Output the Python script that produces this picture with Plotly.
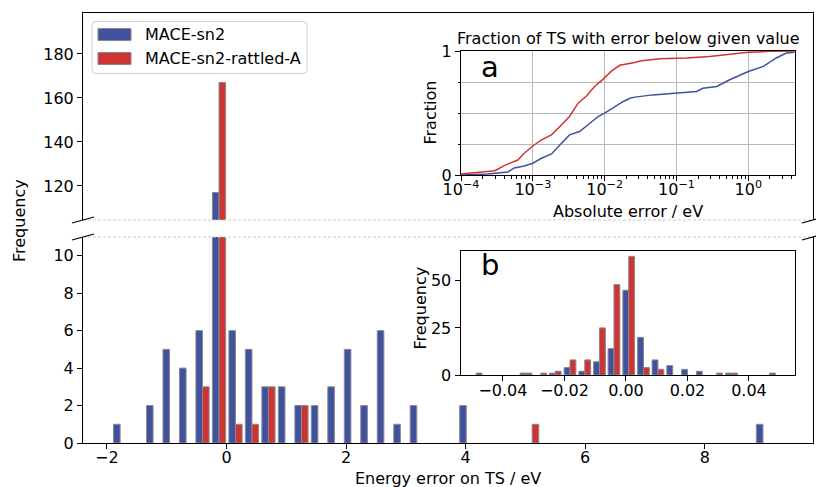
import plotly.graph_objects as go

W, H = 816, 487

# ---------------- data ----------------
# main histogram (energy error on TS / eV), bin centres and counts
bin_centers = [-1.779, -1.228, -0.952, -0.676, -0.401, -0.125, 0.151, 0.426, 0.702, 0.978,
               1.254, 1.529, 1.805, 2.081, 2.356, 2.632, 2.908, 3.183, 4.011, 5.113, 8.973]
counts_sn2 = [1, 2, 5, 4, 6, 117, 6, 5, 3, 3, 2, 2, 3, 5, 2, 6, 1, 2, 2, 0, 1]
counts_rattled = [0, 0, 0, 0, 3, 167, 1, 1, 3, 0, 2, 0, 0, 0, 0, 0, 0, 0, 0, 1, 0]
bin_width = 0.2757

# inset b: zoomed histogram
zoom_centers = [-0.0468, -0.0325, -0.0277, -0.0230, -0.0182, -0.0134, -0.0086, -0.0039, 0.0009,
                0.0057, 0.0104, 0.0152, 0.0200, 0.0248, 0.0295, 0.0343, 0.0486]
zoom_sn2 = [1, 1, 0, 1, 4, 2, 7, 14, 45, 20, 8, 5, 3, 2, 0, 1, 1]
zoom_rattled = [0, 1, 1, 2, 8, 8, 25, 48, 63, 4, 3, 0, 0, 0, 1, 1, 0]
zoom_bin_width = 0.00477

# inset a: cumulative fraction of TS with |error| below value
cdf_err_sn2 = [1.0e-4, 2.34e-4, 4.47e-4, 5.5e-4, 7.59e-4, 1.0e-3, 1.32e-3, 1.82e-3, 2.51e-3,
               3.24e-3, 4.47e-3, 5.89e-3, 8.13e-3, 1.0e-2, 1.38e-2, 1.82e-2, 2.24e-2, 2.63e-2,
               4.68e-2, 0.1, 0.19, 0.234, 0.363, 0.55, 1.0, 1.62, 2.45, 3.39, 4.4]
cdf_frac_sn2 = [0.002, 0.01, 0.027, 0.059, 0.075, 0.097, 0.137, 0.172, 0.258,
                0.325, 0.352, 0.406, 0.473, 0.5, 0.553, 0.594, 0.62, 0.629,
                0.647, 0.661, 0.674, 0.70, 0.715, 0.769, 0.835, 0.876, 0.944, 0.984, 0.99]
cdf_err_rattled = [1.0e-4, 1.55e-4, 2.95e-4, 4.07e-4, 6.17e-4, 7.59e-4, 1.0e-3, 1.32e-3, 1.82e-3,
                   2.51e-3, 3.24e-3, 4.27e-3, 5.62e-3, 7.24e-3, 9.55e-3, 1.23e-2, 1.62e-2, 2.63e-2,
                   3.09e-2, 5.89e-2, 0.138, 0.288, 0.55, 1.0, 2.0, 4.4]
cdf_frac_rattled = [0.01, 0.021, 0.037, 0.08, 0.123, 0.177, 0.236, 0.285, 0.325,
                    0.406, 0.473, 0.58, 0.64, 0.715, 0.774, 0.836, 0.885, 0.908,
                    0.92, 0.938, 0.943, 0.956, 0.973, 0.989, 0.997, 1.0]

series_names = ["MACE-sn2", "MACE-sn2-rattled-A"]

main_xticks = [-2, 0, 2, 4, 6, 8]
main_xticktext = ["\u22122", "0", "2", "4", "6", "8"]
low_yticks = [0, 2, 4, 6, 8, 10]
high_yticks = [120, 140, 160, 180]
a_xticks = [1e-4, 1e-3, 1e-2, 1e-1, 1]
a_xticktext = ["10<sup>\u22124</sup>", "10<sup>\u22123</sup>", "10<sup>\u22122</sup>",
               "10<sup>\u22121</sup>", "10<sup>0</sup>"]
b_xticks = [-0.04, -0.02, 0.0, 0.02, 0.04]
b_xticktext = ["\u22120.04", "\u22120.02", "0.00", "0.02", "0.04"]
b_yticks = [0, 25, 50]

# ---------------- style ----------------
BLUE = "#4051a0"
RED = "#cf3434"
EDGE = "#8a8a8a"
FONT = "DejaVu Sans"
FS = 16


def px(x):
    return x / W


def py(y):
    return 1 - y / H


fig = go.Figure()


def add_bars(xs, a, b, bw, xa, ya):
    w = 0.4 * bw
    for vals, col, off in ((a, BLUE, -w), (b, RED, 0.0)):
        xx = [x for x, v in zip(xs, vals) if v > 0]
        yy = [v for v in vals if v > 0]
        fig.add_trace(go.Bar(x=xx, y=yy, width=[w] * len(xx), offset=off,
                             marker=dict(color=col, line=dict(color=EDGE, width=1)),
                             xaxis=xa, yaxis=ya, showlegend=False, hoverinfo="skip"))


add_bars(bin_centers, counts_sn2, counts_rattled, bin_width, "x", "y")
add_bars(bin_centers, counts_sn2, counts_rattled, bin_width, "x2", "y2")
add_bars(zoom_centers, zoom_sn2, zoom_rattled, zoom_bin_width, "x4", "y4")

fig.add_trace(go.Scatter(x=cdf_err_sn2, y=cdf_frac_sn2, mode="lines",
                         line=dict(color=BLUE, width=1.5), xaxis="x3", yaxis="y3",
                         showlegend=False, hoverinfo="skip"))
fig.add_trace(go.Scatter(x=cdf_err_rattled, y=cdf_frac_rattled, mode="lines",
                         line=dict(color=RED, width=1.5), xaxis="x3", yaxis="y3",
                         showlegend=False, hoverinfo="skip"))

tickfont = dict(family=FONT, size=FS, color="black")
common = dict(showline=True, linecolor="black", linewidth=1, ticks="outside", ticklen=5,
              tickwidth=1, tickcolor="black", tickfont=tickfont, zeroline=False,
              showgrid=False, automargin=False)

main_dom = [px(83), px(813)]
a_dom_x = [px(461), px(795)]
b_dom_x = [px(460.5), px(794.5)]

fig.update_layout(
    width=W, height=H, margin=dict(l=0, r=0, t=0, b=0, autoexpand=False),
    paper_bgcolor="white", plot_bgcolor="rgba(0,0,0,0)",
    barmode="overlay", showlegend=False,
    font=dict(family=FONT, size=FS, color="black"),
    xaxis=dict(domain=main_dom, anchor="y", range=[-2.4, 9.81], tickmode="array",
               tickvals=main_xticks, ticktext=main_xticktext, ticklabelstandoff=-5, **common),
    yaxis=dict(domain=[py(443), py(237)], anchor="x", range=[0, 11], tickmode="array",
               tickvals=low_yticks, mirror=True, **common),
    xaxis2=dict(domain=main_dom, anchor="y2", range=[-2.4, 9.81], side="top",
                showline=True, linecolor="black", linewidth=1, ticks="",
                showticklabels=False, zeroline=False, showgrid=False, automargin=False),
    yaxis2=dict(domain=[py(220), py(13)], anchor="x2", range=[104.5, 198.6], tickmode="array",
                tickvals=high_yticks, mirror=True, **common),
    xaxis3=dict(domain=a_dom_x, anchor="y3", type="log", range=[-4, 0.65],
                tickmode="array", tickvals=a_xticks, ticktext=a_xticktext,
                mirror=True, showline=True, linecolor="black", linewidth=1,
                ticks="outside", ticklen=5, tickcolor="black", tickfont=tickfont,
                ticklabelstandoff=-6,
                zeroline=False, showgrid=True, gridcolor="#b8b8b8", gridwidth=1,
                automargin=False,
                minor=dict(ticks="outside", ticklen=2.5, tickcolor="black", dtick="D1",
                           showgrid=False)),
    yaxis3=dict(domain=[py(175.3), py(51)], anchor="x3", range=[0, 1], tickmode="array",
                tickvals=[0, 1], mirror=True, showline=True, linecolor="black", linewidth=1,
                ticks="outside", ticklen=5, tickcolor="black", tickfont=tickfont,
                zeroline=False, showgrid=False, automargin=False,
                minor=dict(tickmode="linear", tick0=0, dtick=0.25, ticks="outside",
                           ticklen=2.5, tickcolor="black", showgrid=True,
                           gridcolor="#b8b8b8", gridwidth=1)),
    xaxis4=dict(domain=b_dom_x, anchor="y4", range=[-0.0538, 0.0548], tickmode="array",
                tickvals=b_xticks, ticktext=b_xticktext, mirror=True, ticklabelstandoff=-4,
                **common),
    yaxis4=dict(domain=[py(375), py(250.7)], anchor="x4", range=[0, 66], tickmode="array",
                tickvals=b_yticks, mirror=True, **common),
)

shapes = []
# broken-axis dashed edges
for yy in (220, 237):
    shapes.append(dict(type="line", xref="paper", yref="paper", x0=px(83), x1=px(813),
                       y0=py(yy), y1=py(yy), line=dict(color="#cccccc", width=1, dash="3px,2px")))
# diagonal break marks
for xc in (83, 813):
    for yc in (220, 237):
        shapes.append(dict(type="line", xref="paper", yref="paper",
                           x0=px(xc - 11), y0=py(yc + 3), x1=px(xc + 11), y1=py(yc - 3),
                           line=dict(color="black", width=1.2)))

# legend box (rounded)
lx0, lx1, ly0, ly1, r = 92, 307, 21.5, 73.5, 4
path = (f"M {px(lx0 + r)},{py(ly0)} L {px(lx1 - r)},{py(ly0)} "
        f"Q {px(lx1)},{py(ly0)} {px(lx1)},{py(ly0 + r)} L {px(lx1)},{py(ly1 - r)} "
        f"Q {px(lx1)},{py(ly1)} {px(lx1 - r)},{py(ly1)} L {px(lx0 + r)},{py(ly1)} "
        f"Q {px(lx0)},{py(ly1)} {px(lx0)},{py(ly1 - r)} L {px(lx0)},{py(ly0 + r)} "
        f"Q {px(lx0)},{py(ly0)} {px(lx0 + r)},{py(ly0)} Z")
shapes.append(dict(type="path", xref="paper", yref="paper", path=path,
                   fillcolor="rgba(255,255,255,0.8)", line=dict(color="#d0d0d0", width=1)))
legend_rows = [(34.5, BLUE), (58.5, RED)]
for (yc, col) in legend_rows:
    shapes.append(dict(type="rect", xref="paper", yref="paper",
                       x0=px(98), x1=px(131), y0=py(yc - 6), y1=py(yc + 6),
                       fillcolor=col, line=dict(color=EDGE, width=1)))
fig.update_layout(shapes=shapes)

annotations = []


def ann(text, x, y, size=FS, angle=0, xanchor="center", yanchor="middle"):
    annotations.append(dict(text=text, x=px(x), y=py(y), xref="paper", yref="paper",
                            showarrow=False, textangle=angle, xanchor=xanchor,
                            yanchor=yanchor, font=dict(family=FONT, size=size, color="black")))


for (yc, _), name in zip(legend_rows, series_names):
    ann(name, 143, yc, xanchor="left")

ann("Frequency", 19, 221, angle=-90)
ann("Energy error on TS / eV", 448, 478)
ann("Fraction of TS with error below given value", 628, 38.5)
ann("Absolute error / eV", 628, 211)
ann("Fraction", 430, 112.5, angle=-90)
ann("Frequency", 419.5, 308, angle=-90)
ann("a", 479, 67, size=29, xanchor="left")
ann("b", 479, 265, size=29, xanchor="left")
fig.update_layout(annotations=annotations)

fig.write_html("out.html", config={"displayModeBar": False},
               post_script="document.body.style.margin='0';document.body.style.overflow='hidden';")
